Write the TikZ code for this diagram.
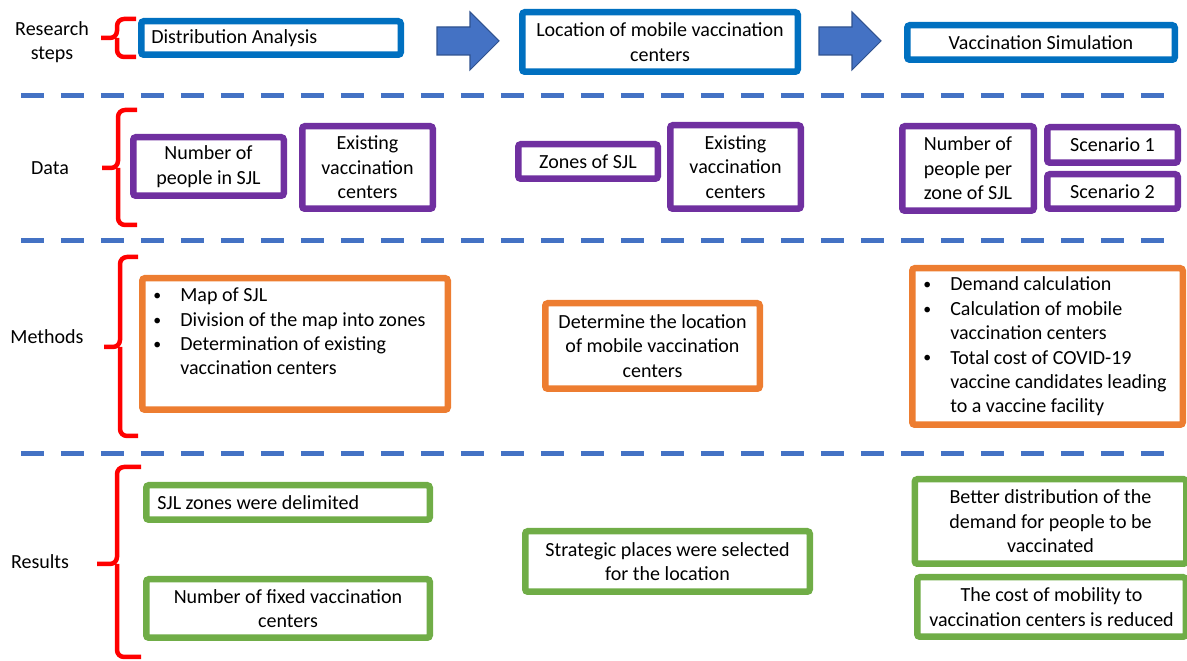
\documentclass[tikz,border=0pt]{standalone}
\usepackage{fontspec}
\setmainfont{Carlito}
\usetikzlibrary{positioning}
\definecolor{stepblue}{HTML}{0070C0}
\definecolor{datapurple}{HTML}{7030A0}
\definecolor{methorange}{HTML}{ED7D31}
\definecolor{resgreen}{HTML}{70AD47}
\definecolor{lineblue}{HTML}{4472C4}
\definecolor{arrowedge}{HTML}{2F528F}
\newcommand{\bitem}{\makebox[0.54cm][l]{\raisebox{0.6pt}{\fontsize{9}{9}\selectfont •}}}
\newcommand{\bcont}{\hspace*{0.54cm}}
\tikzset{
	basebox/.style={draw, line width=0.13cm, rounded corners=1.5pt, fill=white, inner sep=0pt, align=center},
	sz/.style 2 args={minimum width=#1*0.02cm, minimum height=#2*0.02cm},
	stepbox/.style={basebox, draw=stepblue},
	databox/.style={basebox, draw=datapurple},
	methbox/.style={basebox, draw=methorange},
	resbox/.style={basebox, draw=resgreen},
	rowlabel/.style={align=center},
	sepline/.style={lineblue, line width=0.1cm, dash pattern=on 0.46cm off 0.34cm},
	bracered/.style={red, line width=0.09cm, rounded corners=4pt},
	blockarrow/.style={fill=lineblue, draw=arrowedge, line width=0.6pt}
}
\begin{document}
\begin{tikzpicture}[x=0.02cm, y=-0.02cm, font=\fontsize{11.4}{13.9}\selectfont]
	\useasboundingbox (0,0) rectangle (1187,661);
	%\draw [help lines, step=50] (0,0) grid (1187,661);
	
	% row labels
	\node[rowlabel] (lsteps) at (52,42) {Research\\steps};
	\node[rowlabel] (ldata) at (50,168) {Data};
	\node[rowlabel] (lmeth) at (47,337) {Methods};
	\node[rowlabel] (lres) at (40,562) {Results};
	
	% braces
	\draw[bracered] (136,19) -- (117,19) -- (117,38) -- (101,38);
	\draw[bracered] (117,38) -- (117,57) -- (136,57);
	\draw[bracered] (137,110) -- (118,110) -- (118,168) -- (102,168);
	\draw[bracered] (118,168) -- (118,225) -- (137,225);
	\draw[bracered] (138,257) -- (120,257) -- (120,347) -- (104,347);
	\draw[bracered] (120,347) -- (120,436) -- (138,436);
	\draw[bracered] (141,467) -- (117,467) -- (117,564) -- (97,564);
	\draw[bracered] (117,564) -- (117,657) -- (141,657);
	
	% research steps
	\node[stepbox, sz={259.5}{33.5}, text width=4.79cm, align=flush left] (distr) at (271,38) {Distribution Analysis};
	\node[stepbox, sz={275.5}{59.5}] (locate) at (660,42) {Location of mobile vaccination\\centers};
	\node[stepbox, sz={267.5}{34.5}] (simul) at (1041,42.5) {Vaccination Simulation};
	\draw[blockarrow] (437,27) -- (470,27) -- (470,12) -- (499,41) -- (470,70) -- (470,55) -- (437,55) -- cycle;
	\draw[blockarrow] (819,27) -- (852,27) -- (852,12) -- (881,41) -- (852,70) -- (852,55) -- (819,55) -- cycle;
	
	\foreach \y in {95.5,240.5,454}
		\draw[sepline] (21,\y) -- (1180,\y);
	
	% data
	\node[databox, sz={150.5}{58.5}] (pplSJL) at (208.5,166.5) {Number of\\people in SJL};
	\node[databox, sz={130.5}{82.5}] (exist1) at (367.5,167.5) {Existing\\vaccination\\centers};
	\node[databox, sz={139.5}{34.5}] (zones) at (588,161.5) {Zones of SJL};
	\node[databox, sz={130.5}{83.5}] (exist2) at (735.5,167) {Existing\\vaccination\\centers};
	\node[databox, sz={131.5}{84.5}] (pplzone) at (968,168.5) {Number of\\people per\\zone of SJL};
	\node[databox, sz={130.5}{35.5}] (scen1) at (1112.5,145) {Scenario 1};
	\node[databox, sz={130.5}{34.5}] (scen2) at (1112.5,191.5) {Scenario 2};
	
	% methods
	\node[methbox, sz={305.5}{131.5}] (methA) at (295,344) {};
	\node[align=left, anchor=west, inner sep=0pt] (methAlist) at (153,331.5)
		{\bitem Map of SJL\\\bitem Division of the map into zones\\\bitem Determination of existing\\\bcont vaccination centers};
	\node[methbox, sz={214.5}{85.5}] (determ) at (652.5,346) {Determine the location\\of mobile vaccination\\centers};
	\node[methbox, sz={270.5}{156.5}, text width=4.97cm, align=flush left] (methC) at (1047.5,346.5)
		{\bitem Demand calculation\\\bitem Calculation of mobile\\\bcont vaccination centers\\\bitem Total cost of COVID-19\\\bcont vaccine candidates leading\\\bcont to a vaccine facility};
	
	% results
	\node[resbox, sz={283.5}{34.5}, text width=5.23cm, align=flush left] (zonesDel) at (288,502.5) {SJL zones were delimited};
	\node[resbox, sz={283.5}{58.5}] (fixedNum) at (288,608.5) {Number of fixed vaccination\\centers};
	\node[resbox, sz={284.5}{60.5}] (strateg) at (667.5,561.5) {Strategic places were selected\\for the location};
	\node[resbox, sz={271.5}{84.5}] (better) at (1050.5,521.5) {Better distribution of the\\demand for people to be\\vaccinated};
	\node[resbox, sz={268.5}{59.5}] (costRed) at (1051.5,607) {The cost of mobility to\\vaccination centers is reduced};
\end{tikzpicture}
\end{document}
